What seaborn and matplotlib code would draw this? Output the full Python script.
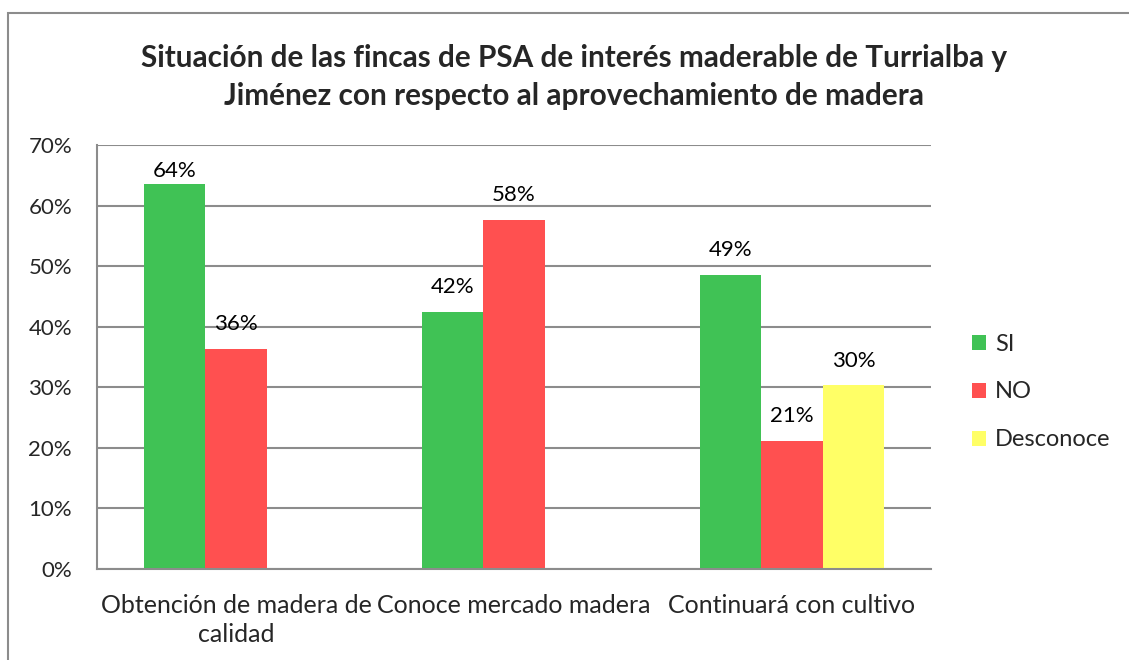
import numpy as np
import pandas as pd
import matplotlib
matplotlib.use("Agg")
import matplotlib.pyplot as plt
from matplotlib.patches import Rectangle
import seaborn as sns

categories = ["Obtención de madera de\ncalidad", "Conoce mercado madera", "Continuará con cultivo"]
series = ["SI", "NO", "Desconoce"]
si_values = [63.6, 42.4, 48.5]
no_values = [36.4, 57.6, 21.2]
desconoce_values = [np.nan, np.nan, 30.3]
labels_si = ["64%", "42%", "49%"]
labels_no = ["36%", "58%", "21%"]
labels_des = ["", "", "30%"]
yticks = [0, 10, 20, 30, 40, 50, 60, 70]
colors = ["#40C255", "#FF5050", "#FFFF66"]
title = "Situación de las fincas de PSA de interés maderable de Turrialba y\nJiménez con respecto al aprovechamiento de madera"

sns.set_theme(style="white")
plt.rcParams['font.family'] = ['Lato', 'DejaVu Sans']

rows = []
for s, vals in zip(series, [si_values, no_values, desconoce_values]):
    for c, v in zip(categories, vals):
        rows.append({"cat": c, "serie": s, "val": v})
df = pd.DataFrame(rows)

fig = plt.figure(figsize=(11.29, 6.6), dpi=100)
W, H = 1129, 660
ax = fig.add_axes([97 / W, 1 - 569 / H, (931 - 97) / W, (569 - 145) / H])

sns.barplot(data=df, x="cat", y="val", hue="serie", hue_order=series,
            order=categories, palette=colors, width=0.664, gap=0,
            saturation=1, ax=ax, legend=True, errorbar=None, linewidth=0)

ymax = 70
px_per_unit = (569 - 145) / ymax
all_labels = [labels_si, labels_no, labels_des]
for cont, labs in zip(ax.containers, all_labels):
    bars = [p for p in cont.patches if p is not None]
    labs_present = [l for l, p in zip(labs, cont.patches) if p is not None] \
        if len(cont.patches) == len(labs) else [l for l in labs if l]
    for p, l in zip(bars, labs_present):
        h = p.get_height()
        if not l or np.isnan(h):
            continue
        # label baseline ~3.1 units above bar, kept inside the plot area
        off_units = min(3.1, (ymax - 5.3) - h)
        off_pt = off_units * px_per_unit * 72 / 100
        ax.annotate(l, (p.get_x() + p.get_width() / 2, h),
                    xytext=(0, off_pt), textcoords="offset points",
                    ha="center", va="baseline", fontsize=16, color="#000000")

ax.set_ylim(0, ymax)
ax.set_yticks(yticks)
ax.set_yticklabels([f"{t}%" for t in yticks], fontsize=16)
ax.set_xlim(-0.5, 2.5)
ax.tick_params(axis="x", labelsize=18, length=0, pad=18)
for t in ax.get_xticklabels():
    t.set_linespacing(1.3)
ax.tick_params(axis="y", length=0, pad=18)
ax.set_xlabel("")
ax.set_ylabel("")
ax.yaxis.grid(True, color="#8C8C8C", linewidth=1.5)
ax.set_axisbelow(True)
for sp in ["top", "right"]:
    ax.spines[sp].set_visible(False)
for sp in ["left", "bottom"]:
    ax.spines[sp].set_color("#8C8C8C")
    ax.spines[sp].set_linewidth(1.5)

leg = ax.legend(loc="center left", bbox_to_anchor=(972 / W, 1 - 392 / H),
                bbox_transform=fig.transFigure, frameon=False,
                fontsize=17, handlelength=0.6, handleheight=0.6,
                labelspacing=1.14, handletextpad=0.38, borderaxespad=0,
                borderpad=0)

fig.text(574 / W, 1 - 77 / H, title, ha="center", va="center",
         fontsize=21.4, fontweight="bold", linespacing=1.4)

fig.patches.append(Rectangle((8 / W, -0.1), 1.2, 1 - 13 / H + 0.1,
                             transform=fig.transFigure, fill=False,
                             edgecolor="#8C8C8C", linewidth=1.5))

fig.savefig("out.png", dpi=100)
